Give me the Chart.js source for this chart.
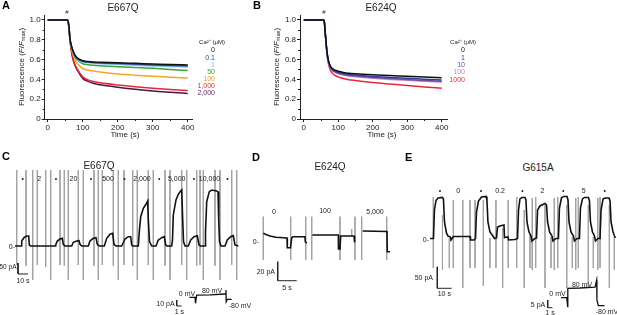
<!DOCTYPE html>
<html>
<head>
  <title>Fluorescence and current traces</title>
  <script src="https://cdn.jsdelivr.net/npm/chart.js"></script>
  <style>
    body {
      margin: 0;
      background: #fff;
      font-family: "Liberation Sans", Arial, sans-serif;
    }
    #fig {
      position: relative;
      width: 617px;
      height: 315px;
      overflow: hidden;
    }
    canvas {
      position: absolute;
    }
    .t {
      position: absolute;
      font-size: 7px;
      line-height: 1;
      white-space: nowrap;
      color: #222;
    }
    .c { transform: translate(-50%, -50%); }
    .r { transform: translate(-100%, -50%); }
    .l { transform: translate(0, -50%); }
    .p { font-size: 11px; font-weight: bold; color: #000; }
    .h { font-size: 10px; }
    .yt { transform: translate(-50%, -50%) rotate(-90deg); font-size: 8px; }
    sub { font-size: 70%; vertical-align: -1px; }
  </style>
</head>
<body>
<div id="fig">
  <canvas id="chartA" width="200" height="150" style="left:0;top:0"></canvas>
  <canvas id="chartB" width="205" height="150" style="left:250px;top:0"></canvas>
  <canvas id="chartC" width="232" height="118" style="left:10px;top:165px"></canvas>
  <canvas id="insetC" width="70" height="28" style="left:170px;top:284px"></canvas>
  <canvas id="chartD" width="142" height="80" style="left:250px;top:210px"></canvas>
  <canvas id="chartE" width="202" height="110" style="left:415px;top:185px"></canvas>
  <canvas id="insetE" width="77" height="36" style="left:540px;top:276px"></canvas>

  <!-- A -->
  <div class="t l p" style="left:2px;top:5px">A</div>
  <div class="t c h" style="left:123px;top:8px">E667Q</div>
  <div class="t c" style="left:67px;top:12px;font-size:6px">#</div>
  <div class="t yt" style="left:22px;top:67px">Fluorescence (<i>F</i>/<i>F</i><sub>max</sub>)</div>
  <div class="t c" style="left:125px;top:135px;font-size:8px">Time (s)</div>
  <div class="t c" style="left:212px;top:42px;font-size:6px">Ca²⁺ (μM)</div>
  <div class="t r" style="left:215px;top:49.3px;color:#111">0</div>
  <div class="t r" style="left:215px;top:56.7px;color:#2b4fa0">0.1</div>
  <div class="t r" style="left:215px;top:63.5px;color:#7fbfe6">1</div>
  <div class="t r" style="left:215px;top:70.5px;color:#3aa53a">50</div>
  <div class="t r" style="left:215px;top:77.5px;color:#f2a11f">100</div>
  <div class="t r" style="left:215px;top:84.7px;color:#e8273a">1,000</div>
  <div class="t r" style="left:215px;top:92px;color:#5a1f5c">2,000</div>

  <!-- B -->
  <div class="t l p" style="left:253px;top:5px">B</div>
  <div class="t c h" style="left:381px;top:8px">E624Q</div>
  <div class="t c" style="left:324px;top:12px;font-size:6px">#</div>
  <div class="t yt" style="left:277px;top:67px">Fluorescence (<i>F</i>/<i>F</i><sub>max</sub>)</div>
  <div class="t c" style="left:382px;top:135px;font-size:8px">Time (s)</div>
  <div class="t c" style="left:463px;top:42px;font-size:6px">Ca²⁺ (μM)</div>
  <div class="t r" style="left:465px;top:49px;color:#111">0</div>
  <div class="t r" style="left:465px;top:56.5px;color:#2d3f9e">1</div>
  <div class="t r" style="left:465px;top:63.7px;color:#7b4a9e">10</div>
  <div class="t r" style="left:465px;top:71px;color:#c98ac7">100</div>
  <div class="t r" style="left:465px;top:78.5px;color:#e8273a">1000</div>

  <!-- C -->
  <div class="t l p" style="left:2px;top:156px">C</div>
  <div class="t c h" style="left:99px;top:166px">E667Q</div>
  <div class="t c" style="left:22.7px;top:177.5px">•</div>
  <div class="t c" style="left:39.3px;top:177.5px">2</div>
  <div class="t c" style="left:56px;top:177.5px">•</div>
  <div class="t c" style="left:73.5px;top:177.5px">20</div>
  <div class="t c" style="left:91px;top:177.5px">•</div>
  <div class="t c" style="left:108px;top:177.5px">500</div>
  <div class="t c" style="left:124.5px;top:177.5px">•</div>
  <div class="t c" style="left:142px;top:177.5px">2,000</div>
  <div class="t c" style="left:159.3px;top:177.5px">•</div>
  <div class="t c" style="left:176.7px;top:177.5px">5,000</div>
  <div class="t c" style="left:194px;top:177.5px">•</div>
  <div class="t c" style="left:209.5px;top:177.5px">10,000</div>
  <div class="t c" style="left:227.5px;top:177.5px">•</div>
  <div class="t r" style="left:15px;top:246px">0-</div>
  <div class="t r" style="left:16.5px;top:267px;font-size:6.5px">50 pA</div>
  <div class="t c" style="left:23px;top:279.5px">10 s</div>
  <div class="t c" style="left:187px;top:293.3px">0 mV</div>
  <div class="t c" style="left:212px;top:290px">80 mV</div>
  <div class="t c" style="left:240px;top:304.5px">-80 mV</div>
  <div class="t c" style="left:165.5px;top:303.3px">10 pA</div>
  <div class="t c" style="left:179.3px;top:310.7px">1 s</div>

  <!-- D -->
  <div class="t l p" style="left:252px;top:157px">D</div>
  <div class="t c h" style="left:330px;top:167px">E624Q</div>
  <div class="t c" style="left:274px;top:210.5px">0</div>
  <div class="t c" style="left:325px;top:210px">100</div>
  <div class="t c" style="left:375px;top:210.5px">5,000</div>
  <div class="t r" style="left:259px;top:241px">0-</div>
  <div class="t r" style="left:275px;top:271px">20 pA</div>
  <div class="t c" style="left:287px;top:286.7px">5 s</div>

  <!-- E -->
  <div class="t l p" style="left:405px;top:157px">E</div>
  <div class="t c h" style="left:538px;top:168px">G615A</div>
  <div class="t c" style="left:440px;top:190px">•</div>
  <div class="t c" style="left:458.3px;top:190px">0</div>
  <div class="t c" style="left:481px;top:190px">•</div>
  <div class="t c" style="left:500px;top:190px">0.2</div>
  <div class="t c" style="left:522.5px;top:190px">•</div>
  <div class="t c" style="left:542.5px;top:190px">2</div>
  <div class="t c" style="left:563.3px;top:190px">•</div>
  <div class="t c" style="left:583.7px;top:190px">5</div>
  <div class="t c" style="left:604.7px;top:190px">•</div>
  <div class="t r" style="left:429px;top:238.5px">0-</div>
  <div class="t r" style="left:433px;top:276.7px">50 pA</div>
  <div class="t c" style="left:444.3px;top:293.3px">10 s</div>
  <div class="t c" style="left:557.5px;top:293.3px">0 mV</div>
  <div class="t c" style="left:582px;top:284.3px">80 mV</div>
  <div class="t c" style="left:607px;top:311px">-80 mV</div>
  <div class="t c" style="left:538px;top:304.3px">5 pA</div>
  <div class="t c" style="left:550px;top:312px">1 s</div>
</div>

<script>
  // ---- A: E667Q fluorescence (F/Fmax) vs time (s)
  var timesA = [0, 57, 60, 64, 71, 78, 85, 100, 115, 130, 150, 200, 250, 300, 350, 400];
  var a0    = [1, 1, 0.95, 0.80, 0.70, 0.645, 0.615, 0.588, 0.580, 0.575, 0.572, 0.568, 0.562, 0.556, 0.550, 0.545];
  var a0_1  = [1, 1, 0.95, 0.80, 0.70, 0.640, 0.610, 0.583, 0.575, 0.570, 0.566, 0.560, 0.553, 0.546, 0.540, 0.535];
  var a1    = [1, 1, 0.95, 0.80, 0.695, 0.635, 0.605, 0.578, 0.568, 0.562, 0.557, 0.550, 0.543, 0.536, 0.530, 0.525];
  var a50   = [1, 1, 0.95, 0.80, 0.69, 0.625, 0.595, 0.558, 0.548, 0.542, 0.537, 0.528, 0.520, 0.512, 0.500, 0.490];
  var a100  = [1, 1, 0.95, 0.79, 0.67, 0.60, 0.56, 0.51, 0.495, 0.485, 0.475, 0.455, 0.442, 0.432, 0.422, 0.413];
  var a1000 = [1, 1, 0.94, 0.78, 0.63, 0.55, 0.50, 0.425, 0.395, 0.378, 0.365, 0.343, 0.325, 0.310, 0.298, 0.288];
  var a2000 = [1, 1, 0.94, 0.78, 0.62, 0.54, 0.49, 0.41, 0.38, 0.36, 0.345, 0.32, 0.30, 0.283, 0.27, 0.258];

  // ---- B: E624Q
  var timesB = [0, 58, 60, 62, 65, 68, 72, 78, 85, 92, 100, 115, 130, 150, 200, 250, 300, 350, 400];
  var b0    = [1, 1, 0.97, 0.88, 0.76, 0.66, 0.585, 0.53, 0.505, 0.492, 0.482, 0.47, 0.462, 0.456, 0.446, 0.439, 0.431, 0.424, 0.417];
  var b1    = [1, 1, 0.97, 0.88, 0.76, 0.655, 0.58, 0.522, 0.496, 0.482, 0.472, 0.459, 0.450, 0.443, 0.430, 0.420, 0.411, 0.402, 0.394];
  var b10   = [1, 1, 0.97, 0.88, 0.755, 0.65, 0.575, 0.515, 0.488, 0.474, 0.464, 0.450, 0.441, 0.434, 0.420, 0.408, 0.398, 0.389, 0.380];
  var b100  = [1, 1, 0.97, 0.88, 0.75, 0.645, 0.57, 0.51, 0.482, 0.468, 0.457, 0.443, 0.434, 0.427, 0.412, 0.400, 0.390, 0.381, 0.373];
  var b1000 = [1, 1, 0.965, 0.87, 0.74, 0.63, 0.55, 0.485, 0.455, 0.438, 0.425, 0.408, 0.397, 0.388, 0.368, 0.353, 0.339, 0.324, 0.31];

  var xTicks = [0, 100, 200, 300, 400];
  var xMinor = [50, 150, 250, 350];
  var yTicks = [0, 0.2, 0.4, 0.6, 0.8, 1.0];
  var yMinor = [0.1, 0.3, 0.5, 0.7, 0.9];

  // ---- C: E667Q current (time s, current pA)
  var cT = [5, 11, 11.7, 14, 16.7, 18.7, 19.3, 20.7,
            45, 45.7, 47.3, 50, 52.3, 53.3, 55,
            61.7, 63.3, 66.7, 69, 70, 71.7,
            78.3, 80, 83.3, 86, 87.3, 89.3,
            94.3, 96.7, 100, 102.7, 104, 106,
            111.7, 115, 118.3, 120.7, 121.7, 122.7,
            128.3, 129.3, 130.7, 133.3, 136, 137.7, 138.3, 139.5, 141.7,
            146, 148.3, 151.7, 154.3, 155.7, 157,
            161.7, 162.5, 163.3, 166, 168.3, 170.7, 171.7, 172.7, 173.5, 175,
            178.3, 180.7, 184, 187.3, 189, 190.5,
            195, 195.5, 196.7, 199.3, 201.7, 206.7, 208, 208.7, 209.5, 211,
            215, 217.3, 220.7, 223.3, 225, 228.3];
  var cI = [0, 0, 22.7, 37.7, 45.5, 45.5, 4.5, 0,
            0, 4.5, 22.7, 31.8, 35, 7.7, 0,
            0, 16.8, 22.7, 24.1, 7.7, 0,
            0, 22.7, 35, 37.7, 7.7, 0,
            0, 35, 53.2, 57.7, 7.7, 0,
            0, 31.8, 42.3, 42.3, 4.5, 0,
            0, 65, 133.2, 171.4, 189.5, 204.5, 120, 20, 0,
            0, 27.3, 37.7, 42.3, 4.5, 0,
            0, 27.3, 140.9, 209.1, 235, 250, 254.5, 120, 20, 0,
            0, 27.3, 42.3, 46.8, 4.5, 0,
            0, 65, 201.3, 246.8, 254.5, 250, 246.8, 120, 20, 0,
            0, 27.3, 42.3, 46.8, 4.5, 0];
  var cSpikeT = [6.7, 16, 22.7, 27.3, 35.7, 40.7, 50, 54.3, 58.3, 68.3, 73.3, 84, 88.3, 92.3, 103.3, 108.3,
                 114, 122.7, 127.3, 138.3, 143.3, 155, 160, 171.7, 176.7, 186.7, 190, 193.3, 205, 210, 221.7, 226.7];
  var cSpikeTop = [345, 345, 345, 345, 345, 345, 345, 345, 345, 345, 345, 345, 345, 345, 345, 345,
                   345, 345, 345, 345, 345, 345, 345, 345, 345, 345, 345, 345, 345, 345, 345, 345];
  var cSpikeBot = [-86, -90, -154, -86, -95, -154, -86, -90, -154, -86, -154, -90, -154, -86, -90, -154,
                   -86, -90, -154, -86, -154, -90, -154, -86, -154, -90, -86, -154, -90, -154, -86, -154];
  var cScaleT = [8, 8, 18];
  var cScaleI = [-77.3, -127.3, -127.3];

  var ciT = [3.86, 5.0, 5.1, 5.1, 5.34, 8.0, 11.0, 11.2, 11.24, 11.46, 12.34];
  var ciI = [0, 0, 0, -10, 3.8, 4.2, 5.5, 12.2, -7.2, -3.3, -3.3];
  var ciScaleT = [1.34, 1.34, 2.34];
  var ciScaleI = [-4.5, -14.5, -14.5];

  // ---- D: E624Q current
  var dT = [3.5, 4.2, 5.26, 6.84, 9.74, 9.82, 10.66, 10.97, 11.3, 14.47, 14.55, 14.92, 15.5,
            16.39, 23.24, 23.29, 23.68, 23.87, 27.37, 27.42, 27.63, 28.5,
            29.66, 36.05, 36.13, 36.84];
  var dI = [8.1, 6.8, 5.3, 3.9, 3.2, -7.1, -7.1, 3.2, 4.5, 4.5, -0.7, -2.4, null,
            6.3, 6.3, -8.4, -8.4, 5.3, 5.3, -1.4, -1.4, null,
            10.5, 10.0, -11.3, -11.3];
  var dSpikeT = [3.5, 10.71, 14.66, 16.24, 23.68, 27.63, 29.39, 35.97, 26.76];
  var dSpikeTop = [25.6, 25.6, 25.6, 25.6, 25.6, 25.6, 25.6, 25.6, 12.6];
  var dSpikeBot = [-20, -20, -20, -20, -20, -20, -20, -20, 5.3];
  var dScaleT = [7.29, 7.29, 12.29];
  var dScaleI = [-21.8, -41.8, -41.8];

  // ---- E: G615A current
  var eT = [10.5, 12.9, 13.6, 14.7, 16.1, 19.2, 19.9, 20.6, 22.0, 23.1, 24.8, 25.2, 26.2,
            26.9, 38.5, 38.8, 41.3,
            42.3, 43.0, 44.4, 46.5, 49.7, 50.3, 51.0, 52.4, 54.5, 55.6,
            57.0, 57.7, 59.4, 62.2, 62.6, 65.0, 65.4, 69.9,
            71.7, 72.4, 73.4, 74.8, 76.9, 77.6, 78.3, 79.7, 81.1, 81.8, 83.9,
            85.0, 85.7, 87.4, 90.9, 92.0, 92.7, 94.1, 95.8, 96.5, 98.6,
            100.3, 101.0, 102.4, 103.8, 106.3, 107.0, 107.7, 109.1, 110.8, 111.5, 113.3,
            115.0, 115.7, 117.1, 118.5, 121.3, 122.0, 122.7, 124.1, 125.5, 126.2, 128.0,
            129.4, 130.1, 131.5, 132.9, 135.7, 136.4, 137.1, 138.5, 139.5, 140.2];
  var eI = [0, 0, 66.3, 88.4, 94.2, 95.4, 91.9, 38.4, 12.8, 5.8, 3.5, -3.5, 1.2,
            4.7, 4.7, -3.5, -3.5,
            0, 61.6, 87.2, 96.5, 97.7, 89.6, 38.4, 15.1, 5.8, 0,
            1.2, 26.7, 29.1, 31.4, 2.3, 3.5, -3.5, -2.3,
            0, 66.3, 91.9, 95.4, 95.4, 89.6, 38.4, 15.1, 5.8, -5.8, 0,
            1.2, 66.3, 75.6, 81.4, 77.9, 38.4, 15.1, 5.8, -5.8, 0,
            0, 70.9, 94.2, 97.7, 97.7, 89.6, 38.4, 15.1, 5.8, -5.8, 0,
            0, 70.9, 91.9, 95.4, 95.4, 87.2, 38.4, 15.1, 5.8, -5.8, 0,
            0, 66.3, 91.9, 94.2, 94.2, 87.2, 38.4, 15.1, 5.8, 1.2];
  var eSpikeT = [12.8, 19.2, 24.0, 26.8, 33.4, 38.5, 42.0, 47.8, 52.4, 56.6, 61.3, 65.2, 71.1, 76.4, 80.4, 82.0,
                 84.4, 90.9, 95.1, 97.4, 99.8, 106.1, 110.0, 112.4, 114.2, 121.2, 124.7, 127.8, 129.4, 135.9, 139.4];
  var eSpikeTop = [96.5, 54.7, 1.2, 89.6, 89.6, 89.6, 89.6, 89.6, 1.2, 89.6, 24.4, 89.6, 96.5, 66.3, 8.1, 94.2,
                   96.5, 77.9, 3.5, 94.2, 96.5, 77.9, 3.5, 94.2, 96.5, 77.9, 3.5, 94.2, 96.5, 77.9, 3.5];
  var eSpikeBot = [-68.6, -73.3, -68.6, -68.6, -115.1, -68.6, -68.6, -110.5, -68.6, -68.6, -115.1, -68.6, -68.6, -115.1, -68.6, -73.3,
                   -68.6, -115.1, -68.6, -73.3, -68.6, -115.1, -68.6, -73.3, -68.6, -115.1, -68.6, -73.3, -68.6, -115.1, -73.3];
  var eScaleT = [15.6, 15.6, 25.6];
  var eScaleI = [-65.8, -115.8, -115.8];

  var eiT = [4.47, 5.68, 5.89, 5.9, 5.93, 8.5, 11.7, 12.06, 12.11, 12.4, 13.74];
  var eiI = [0, 0, -5.8, 6.1, 6.1, 6.3, 6.8, 11.5, -1.5, -5.2, -5.2];
  var eiScaleT = [1.64, 1.64, 2.64];
  var eiScaleI = [-1.5, -6.5, -6.5];

  var FONT = '"Liberation Sans", Arial, sans-serif';

  function pts(xs, ys) {
    return xs.map(function (x, i) { return { x: x, y: ys[i] }; });
  }

  function spikes(xs, tops, bots) {
    var out = [];
    xs.forEach(function (x, i) {
      out.push({ x: x, y: tops[i] }, { x: x, y: bots[i] }, { x: x, y: null });
    });
    return out;
  }

  function minorTicks(xs, ys) {
    return {
      id: 'minorTicks',
      afterDraw: function (chart) {
        var ctx = chart.ctx, x = chart.scales.x, y = chart.scales.y, area = chart.chartArea;
        ctx.save();
        ctx.strokeStyle = '#222';
        ctx.lineWidth = 1;
        ctx.beginPath();
        xs.forEach(function (v) {
          var px = Math.round(x.getPixelForValue(v)) + 0.5;
          ctx.moveTo(px, area.bottom);
          ctx.lineTo(px, area.bottom + 2);
        });
        ys.forEach(function (v) {
          var py = Math.round(y.getPixelForValue(v)) + 0.5;
          ctx.moveTo(area.left, py);
          ctx.lineTo(area.left - 2, py);
        });
        ctx.stroke();
        ctx.restore();
      }
    };
  }

  function fluoChart(id, times, series, colors, xmin, xmax, yWidth, padRight) {
    var datasets = series.map(function (vals, i) {
      return {
        data: pts(times, vals),
        borderColor: colors[i],
        borderWidth: 1.5,
        pointRadius: 0,
        cubicInterpolationMode: 'monotone'
      };
    });
    var tickFont = { family: FONT, size: 8 };
    return new Chart(document.getElementById(id), {
      type: 'line',
      data: { datasets: datasets },
      plugins: [minorTicks(xMinor, yMinor)],
      options: {
        responsive: false,
        animation: false,
        events: [],
        layout: { padding: { top: 15, right: padRight, left: 0, bottom: 0 } },
        plugins: { legend: { display: false }, tooltip: { enabled: false } },
        scales: {
          x: {
            type: 'linear', min: xmin, max: xmax,
            afterBuildTicks: function (s) { s.ticks = xTicks.map(function (v) { return { value: v }; }); },
            afterFit: function (s) { s.height = 31; },
            ticks: { color: '#222', font: tickFont, padding: 1, maxRotation: 0, autoSkip: false },
            grid: { drawOnChartArea: false, tickLength: 3, color: '#222' },
            border: { color: '#222', width: 1 }
          },
          y: {
            min: 0, max: 1.05,
            afterBuildTicks: function (s) { s.ticks = yTicks.map(function (v) { return { value: v }; }); },
            afterFit: function (s) { s.width = yWidth; },
            ticks: {
              color: '#222', font: tickFont, padding: 1, autoSkip: false,
              callback: function (v) { return v === 0 ? '0' : v.toFixed(1); }
            },
            grid: { drawOnChartArea: false, tickLength: 3, color: '#222' },
            border: { color: '#222', width: 1 }
          }
        }
      }
    });
  }

  function traceChart(id, xmin, xmax, ymin, ymax, datasets) {
    return new Chart(document.getElementById(id), {
      type: 'line',
      data: { datasets: datasets },
      options: {
        responsive: false,
        animation: false,
        events: [],
        layout: { padding: 0 },
        spanGaps: false,
        elements: { point: { radius: 0 }, line: { tension: 0 } },
        plugins: { legend: { display: false }, tooltip: { enabled: false } },
        scales: {
          x: { type: 'linear', display: false, min: xmin, max: xmax },
          y: { display: false, min: ymin, max: ymax }
        }
      }
    });
  }

  function trace(xs, ys, w) {
    return { data: pts(xs, ys), borderColor: '#111', borderWidth: w, pointRadius: 0, clip: false };
  }
  function bar(xs, ys) {
    return { data: pts(xs, ys), borderColor: '#222', borderWidth: 1, pointRadius: 0, clip: false };
  }
  function spikeSet(xs, tops, bots) {
    return { data: spikes(xs, tops, bots), borderColor: '#a3a3a3', borderWidth: 1, pointRadius: 0 };
  }

  fluoChart('chartA', timesA, [a0, a0_1, a1, a50, a100, a1000, a2000],
    ['#111111', '#2b4fa0', '#8cc6ea', '#3aa53a', '#f5a623', '#e8273a', '#4a1848'],
    -8.6, 414, 44.7, 7.3);

  fluoChart('chartB', timesB, [b0, b1, b10, b100, b1000],
    ['#111111', '#2d3f9e', '#7b4a9e', '#c98ac7', '#e8273a'],
    -11, 417.5, 50, 7.3);

  traceChart('chartC', 0, 232, -168.2, 368, [
    trace(cT, cI, 1.6),
    bar(cScaleT, cScaleI),
    spikeSet(cSpikeT, cSpikeTop, cSpikeBot)
  ]);

  traceChart('insetC', 0, 14, -24.5, 22.2, [
    trace(ciT, ciI, 1.3),
    bar(ciScaleT, ciScaleI)
  ]);

  traceChart('chartD', 0, 37.37, -51.58, 32.63, [
    trace(dT, dI, 1.6),
    bar(dScaleT, dScaleI),
    spikeSet(dSpikeT, dSpikeTop, dSpikeBot)
  ]);

  traceChart('chartE', 0, 141.26, -131.4, 124.4, [
    trace(eT, eI, 1.6),
    bar(eScaleT, eScaleI),
    spikeSet(eSpikeT, eSpikeTop, eSpikeBot)
  ]);

  traceChart('insetE', 0, 16.38, -9.3, 14.1, [
    trace(eiT, eiI, 1.3),
    bar(eiScaleT, eiScaleI)
  ]);
</script>
</body>
</html>
